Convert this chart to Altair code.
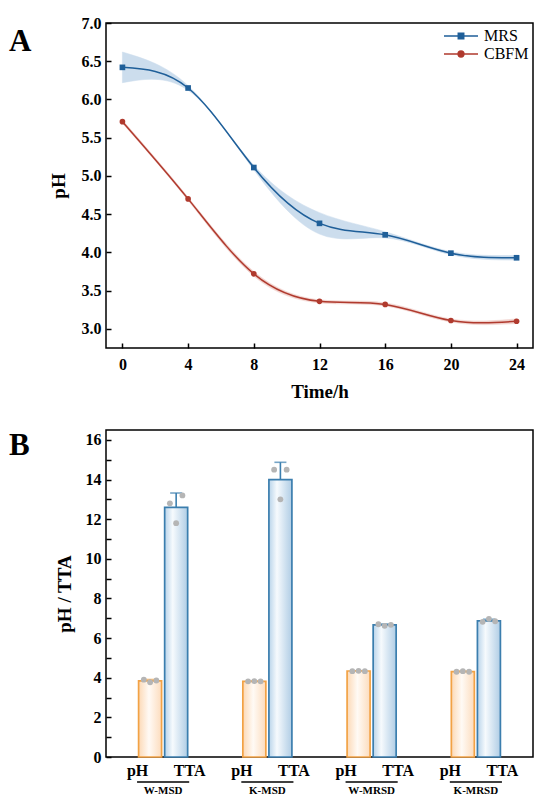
import altair as alt
import pandas as pd

FONT = "Liberation Serif"

# ---------------- Panel A data ----------------
time_h = [0, 4, 8, 12, 16, 20, 24]
mrs_ph = [6.42, 6.15, 5.11, 4.38, 4.23, 3.99, 3.93]
mrs_err = [0.20, 0.03, 0.03, 0.14, 0.04, 0.02, 0.03]
cbfm_ph = [5.71, 4.70, 3.72, 3.36, 3.32, 3.11, 3.10]
cbfm_err = [0.02, 0.02, 0.03, 0.02, 0.02, 0.02, 0.03]
series_names = ["MRS", "CBFM"]
series_colors = ["#1f5f99", "#b03a2e"]
band_colors = ["#8fb4d8", "#e09a90"]
series_shapes = ["square", "circle"]
y_ticks_a = [3.0, 3.5, 4.0, 4.5, 5.0, 5.5, 6.0, 6.5, 7.0]

# ---------------- Panel B data ----------------
groups = ["W-MSD", "K-MSD", "W-MRSD", "K-MRSD"]
ph_mean = [3.84, 3.82, 4.34, 4.31]
ph_sd = [0.07, 0.01, 0.01, 0.02]
tta_mean = [12.60, 14.00, 6.67, 6.87]
tta_sd = [0.72, 0.87, 0.04, 0.08]
ph_reps = [[3.90, 3.77, 3.86], [3.82, 3.83, 3.82], [4.33, 4.35, 4.33], [4.30, 4.33, 4.30]]
tta_reps = [[12.8, 11.8, 13.2], [14.5, 13.0, 14.5], [6.70, 6.62, 6.67], [6.82, 6.97, 6.85]]
bar_kinds = ["pH", "TTA"]
bar_strokes = ["#f2a245", "#3b7eae"]

AX = dict(labelFont=FONT, labelFontSize=16, labelFontWeight="bold", labelColor="black",
          titleFont=FONT, titleFontSize=19, titleFontWeight="bold", titleColor="black",
          grid=False, domain=False, tickColor="black", tickWidth=1.5)

# ================= Panel A =================
rows = []
for name, vals, errs in [("MRS", mrs_ph, mrs_err), ("CBFM", cbfm_ph, cbfm_err)]:
    for t, v, e in zip(time_h, vals, errs):
        rows.append({"series": name, "time": t, "ph": v, "lo": v - e, "hi": v + e})
dfa = pd.DataFrame(rows)

WA, HA = 427, 325
xscale_a = alt.Scale(domain=[-1, 25], nice=False, zero=False)
yscale_a = alt.Scale(domain=[2.75, 7.0], nice=False, zero=False)
xaxis_a = alt.Axis(values=time_h, title="Time/h", offset=-5, tickSize=5,
                   labelPadding=8, titlePadding=10, **AX)
yaxis_a = alt.Axis(values=y_ticks_a, format=".1f", title="pH", offset=-5,
                   tickSize=5, labelPadding=5, titlePadding=13, **AX)

def xa():
    return alt.X("time:Q", scale=xscale_a, axis=xaxis_a)

layers_a = []
for name, col, bcol, shp in zip(series_names, series_colors, band_colors, series_shapes):
    base = alt.Chart(dfa).transform_filter(alt.datum.series == name)
    layers_a.append(
        base.mark_area(interpolate="natural", color=bcol, opacity=0.45,
                       stroke=bcol, strokeWidth=0.6, strokeOpacity=0.9).encode(
            x=xa(), y=alt.Y("lo:Q", scale=yscale_a, axis=yaxis_a), y2="hi:Q"))
    layers_a.append(
        base.mark_line(interpolate="natural", color=col, strokeWidth=1.5).encode(
            x=xa(), y=alt.Y("ph:Q", scale=yscale_a, axis=yaxis_a)))
    layers_a.append(
        base.mark_point(shape=shp, filled=True, size=32, color=col, opacity=1).encode(
            x=xa(), y=alt.Y("ph:Q", scale=yscale_a, axis=yaxis_a)))

sq_path = "M-1,0H1M-0.16,-0.16H0.16V0.16H-0.16Z"
ci_path = "M-1,0H1M0.17,0A0.17,0.17,0,1,1,-0.17,0A0.17,0.17,0,1,1,0.17,0Z"
leg = alt.Legend(title=None, orient="top-right", offset=4, padding=0,
                 symbolSize=1156, symbolStrokeWidth=1.5, symbolOpacity=1,
                 clipHeight=18, labelFont=FONT, labelFontSize=16,
                 labelFontWeight="normal", labelColor="black", labelOffset=5,
                 rowPadding=0)
legend_layer = alt.Chart(dfa).mark_point(opacity=0).encode(
    x=xa(), y=alt.Y("ph:Q", scale=yscale_a, axis=yaxis_a),
    shape=alt.Shape("series:N", scale=alt.Scale(domain=series_names, range=[sq_path, ci_path]), legend=leg),
    fill=alt.Fill("series:N", scale=alt.Scale(domain=series_names, range=series_colors), legend=leg),
    stroke=alt.Stroke("series:N", scale=alt.Scale(domain=series_names, range=series_colors), legend=leg),
)
label_a = alt.Chart(pd.DataFrame({"t": ["A"]})).mark_text(
    align="left", baseline="alphabetic", font=FONT, fontSize=31, fontWeight="bold",
    color="black").encode(text="t:N", x=alt.value(-97), y=alt.value(28))

chart_a = alt.layer(*layers_a, legend_layer, label_a).properties(width=WA, height=HA)

# ================= Panel B =================
bar_rows, pt_rows, grp_rows = [], [], []
for i, g in enumerate(groups):
    for k, kind in enumerate(bar_kinds):
        pos = i + (-0.125 if k == 0 else 0.125)
        m = ph_mean[i] if k == 0 else tta_mean[i]
        s = ph_sd[i] if k == 0 else tta_sd[i]
        reps = ph_reps[i] if k == 0 else tta_reps[i]
        bar_rows.append({"group": g, "kind": kind, "pos": pos, "mean": m, "top": m + s})
        for j, r in enumerate(reps):
            pt_rows.append({"group": g, "kind": kind, "pos": pos + (j - 1) * 0.06, "val": r})
    grp_rows.append({"group": g, "gi": i, "lo": i - 0.25, "hi": i + 0.25})
dfb = pd.DataFrame(bar_rows)
dfp = pd.DataFrame(pt_rows)
dfg = pd.DataFrame(grp_rows)

WB, HB = 427, 327
xscale_b = alt.Scale(domain=[-0.5, 3.5], nice=False, zero=False)
yscale_b = alt.Scale(domain=[0, 16.5], nice=False)
label_pos = []
for i in range(len(groups)):
    label_pos += [i - 0.25, i + 0.25]
xaxis_b = alt.Axis(values=label_pos, title=None, ticks=False, tickSize=0, labelPadding=5,
                   labelExpr="(datum.value - floor(datum.value)) > 0.5 ? 'pH' : 'TTA'", **AX)
yaxis_b = alt.Axis(values=list(range(0, 17)), title="pH / TTA", offset=-5, tickSize=5,
                   labelPadding=5, titlePadding=11,
                   labelExpr="datum.value % 2 == 0 ? datum.label : ''", **AX)

def xb(field="pos:Q"):
    return alt.X(field, scale=xscale_b, axis=xaxis_b)

def yb(field):
    return alt.Y(field, scale=yscale_b, axis=yaxis_b)

ph_grad = alt.LinearGradient(gradient="linear", x1=0, x2=1, y1=0, y2=0, stops=[
    alt.GradientStop(color="#fcd9b6", offset=0),
    alt.GradientStop(color="#fffaf5", offset=0.45),
    alt.GradientStop(color="#fcdcbd", offset=1)])
tta_grad = alt.LinearGradient(gradient="linear", x1=0, x2=1, y1=0, y2=0, stops=[
    alt.GradientStop(color="#b9d4ea", offset=0),
    alt.GradientStop(color="#f6fafd", offset=0.35),
    alt.GradientStop(color="#b0cde5", offset=1)])

layers_b = []
for kind, grad, sc in zip(bar_kinds, [ph_grad, tta_grad], bar_strokes):
    bb = alt.Chart(dfb).transform_filter(alt.datum.kind == kind)
    layers_b.append(bb.mark_rule(color=sc, strokeWidth=1.6).encode(
        x=xb(), y=yb("mean:Q"), y2="top:Q"))
    layers_b.append(bb.mark_tick(orient="horizontal", size=12, thickness=1.6, color=sc).encode(
        x=xb(), y=yb("top:Q")))
    layers_b.append(bb.mark_bar(size=23, fill=grad, stroke=sc, strokeWidth=1.7).encode(
        x=xb(), y=yb("mean:Q")))

points_b = alt.Chart(dfp).mark_circle(size=34, color="#b5b5b5", opacity=1).encode(
    x=xb(), y=yb("val:Q"))
under_b = alt.Chart(dfg).mark_rule(color="black", strokeWidth=1.5).encode(
    x=xb("lo:Q"), x2="hi:Q", y=alt.value(HB + 25))
gtext_b = alt.Chart(dfg).mark_text(font=FONT, fontSize=11, fontWeight="bold", color="black",
                                   baseline="middle").encode(
    x=xb("gi:Q"), y=alt.value(HB + 33.5), text="group:N")
label_b = alt.Chart(pd.DataFrame({"t": ["B"]})).mark_text(
    align="left", baseline="alphabetic", font=FONT, fontSize=31, fontWeight="bold",
    color="black").encode(text="t:N", x=alt.value(-97), y=alt.value(25))

chart_b = alt.layer(*layers_b, points_b, under_b, gtext_b, label_b).properties(width=WB, height=HB)

chart = alt.vconcat(chart_a, chart_b, spacing=27).configure(
    padding={"left": 0, "top": 6, "right": 0, "bottom": 0},
    background="white",
).configure_view(stroke="black", strokeWidth=1.5).configure_axis(**AX)

chart.save("out.html", embed_options={"renderer": "svg", "actions": False})
